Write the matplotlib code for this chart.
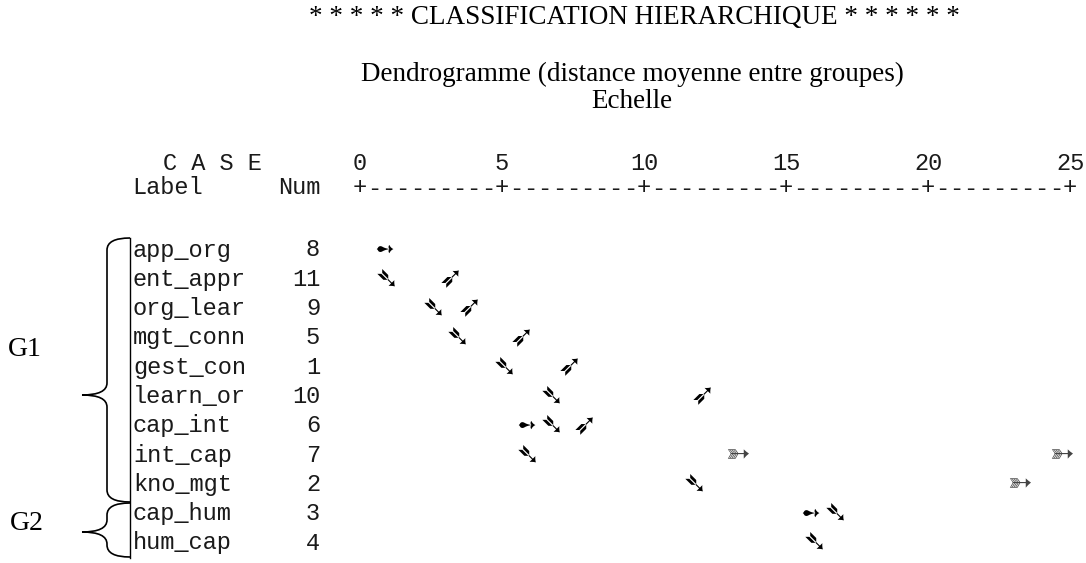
import numpy as np
import matplotlib.pyplot as plt
from matplotlib.path import Path
from matplotlib.patches import PathPatch
import matplotlib.transforms as mtransforms

# Daten
case_labels = ['app_org', 'ent_appr', 'org_lear', 'mgt_conn', 'gest_con', 'learn_or',
               'cap_int', 'int_cap', 'kno_mgt', 'cap_hum', 'hum_cap']
case_nums = [8, 11, 9, 5, 1, 10, 6, 7, 2, 3, 4]
scale_ticks = [0, 5, 10, 15, 20, 25]

# Pfeile: Zeile und Position auf der Skala
start_rows = [0, 6, 9]
start_dist = [0.85, 5.85, 15.85]
down_rows = [1, 2, 3, 4, 5, 6, 7, 8, 9, 10]
down_dist = [0.95, 2.6, 3.45, 5.1, 6.76, 6.75, 5.9, 11.8, 16.75, 16.0]
up_rows = [1, 2, 3, 4, 5, 6]
up_dist = [3.2, 3.87, 5.7, 7.4, 12.08, 7.92]
long_rows = [7, 7, 8]
long_dist = [13.27, 24.7, 23.2]

group_names = ['G1', 'G2']

W, H = 1086, 563
MONO = 'Liberation Mono'
SERIF = 'Liberation Serif'
TXT = '#1a1a1a'


def fx(x):
    return x / W


def fy(y):
    return 1 - y / H


fig = plt.figure(figsize=(W / 100, H / 100), dpi=100)
fig.patch.set_facecolor('white')
ax = fig.add_axes([fx(360), fy(543), 710 / W, 293 / H])
ax.set_xlim(0, 25)
ax.set_ylim(10, 0)
ax.axis('off')

# Titel
fig.text(fx(634), fy(17), '* * * * * CLASSIFICATION HIERARCHIQUE * * * * * *',
         family=SERIF, fontsize=19.5, ha='center', va='center')
fig.text(fx(632), fy(74), 'Dendrogramme (distance moyenne entre groupes)',
         family=SERIF, fontsize=19.5, ha='center', va='center')
fig.text(fx(632), fy(101), 'Echelle', family=SERIF, fontsize=19.5, ha='center', va='center')

# Kopfzeilen
fig.text(fx(163), fy(163), 'C A S E', family=MONO, fontsize=17, ha='left', va='center', color=TXT)
fig.text(fx(132), fy(188), 'Label', family=MONO, fontsize=17, ha='left', va='center', color=TXT)
fig.text(fx(320), fy(188), 'Num', family=MONO, fontsize=17, ha='right', va='center', color=TXT)

# Skala oben
top_x = mtransforms.blended_transform_factory(ax.transData, fig.transFigure)
for t in scale_ticks:
    ax.text(t, fy(163), str(t), transform=top_x, family=MONO, fontsize=17,
            ha='center', va='center', clip_on=False, color=TXT)
for p in np.arange(0, 25.01, 0.5):
    ch = '+' if p % 5 == 0 else '-'
    ax.text(p, fy(188), ch, transform=top_x, family=MONO, fontsize=17,
            ha='center', va='center', clip_on=False, color=TXT)

# Namen und Nummern
row_tr = mtransforms.blended_transform_factory(fig.transFigure, ax.transData)
for i, (lab, num) in enumerate(zip(case_labels, case_nums)):
    ax.text(fx(133), i, lab, transform=row_tr, family=MONO, fontsize=17,
            ha='left', va='center', clip_on=False, color=TXT)
    ax.text(fx(320), i, str(num), transform=row_tr, family=MONO, fontsize=17,
            ha='right', va='center', clip_on=False, color=TXT)

# Pfeilsymbole
for r, d in zip(start_rows, start_dist):
    ax.text(d, r, '\u27bb', family='DejaVu Sans', fontsize=17, ha='center', va='center')
for r, d in zip(down_rows, down_dist):
    ax.text(d, r, '\u27b4', family='DejaVu Sans', fontsize=21, ha='center', va='center')
for r, d in zip(up_rows, up_dist):
    ax.text(d, r, '\u27b6', family='DejaVu Sans', fontsize=21, ha='center', va='center')
for r, d in zip(long_rows, long_dist):
    ax.text(d, r, '\u27b3', family='DejaVu Sans', fontsize=21, ha='center', va='center',
            color='#444444')

# Klammern G1 / G2
px = fig.transFigure


def brace(y0, ytip, y1, xr=130, xm=107, xt=82):
    verts = [(xr, y0), (xm, y0), (xm, y0 + 12),
             (xm, ytip - 12),
             (xm, ytip), (xt, ytip),
             (xm, ytip), (xm, ytip + 12),
             (xm, y1 - 12),
             (xm, y1), (xr, y1)]
    codes = [Path.MOVETO, Path.CURVE3, Path.CURVE3,
             Path.LINETO,
             Path.CURVE3, Path.CURVE3,
             Path.CURVE3, Path.CURVE3,
             Path.LINETO,
             Path.CURVE3, Path.CURVE3]
    verts = [(fx(x), fy(y)) for x, y in verts]
    fig.add_artist(PathPatch(Path(verts, codes), transform=px, fill=False,
                             lw=1.2, color='black'))


brace(238, 395, 502)
brace(503, 532, 557)
fig.add_artist(plt.Line2D([fx(130), fx(130)], [fy(238), fy(558)], transform=px,
                          lw=1.0, color='black'))

fig.text(fx(8), fy(349), group_names[0], family=SERIF, fontsize=20, ha='left', va='center')
fig.text(fx(10), fy(523), group_names[1], family=SERIF, fontsize=20, ha='left', va='center')

fig.savefig('out.png', dpi=100, facecolor='white')
